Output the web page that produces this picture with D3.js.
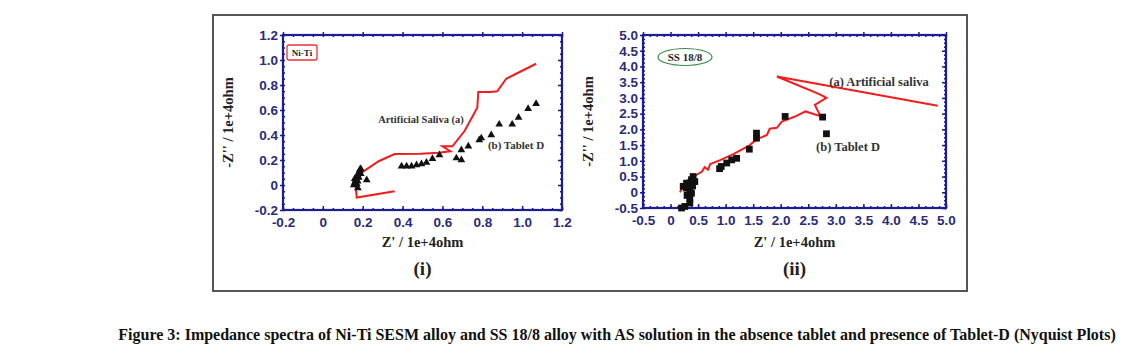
<!DOCTYPE html>
<html>
<head>
<meta charset="utf-8">
<script src="https://cdn.jsdelivr.net/npm/d3@7"></script>
<style>
  body { margin: 0; background: #fff; }
  svg { display: block; }
</style>
</head>
<body>
<svg id="fig" width="1127" height="360"></svg>
<script>
// ---- data ----
// panel (i): Ni-Ti
var niTiTicks = [-0.2, 0, 0.2, 0.4, 0.6, 0.8, 1.0, 1.2];
var niTiSaliva = [
  [0.36, -0.05], [0.17, -0.10], [0.165, -0.02], [0.155, 0.02], [0.165, 0.06],
  [0.2, 0.105], [0.28, 0.19], [0.36, 0.248], [0.49, 0.25], [0.58, 0.258],
  [0.64, 0.27], [0.60, 0.31], [0.65, 0.31], [0.71, 0.43], [0.755, 0.56],
  [0.775, 0.62], [0.78, 0.745], [0.84, 0.745], [0.875, 0.75], [0.92, 0.85],
  [0.97, 0.89], [1.07, 0.97]
];
var niTiTablet = [
  [0.155, 0.0], [0.16, 0.02], [0.165, 0.04], [0.17, 0.06], [0.175, 0.08],
  [0.18, 0.10], [0.185, 0.12], [0.19, 0.13], [0.16, 0.05], [0.17, 0.01],
  [0.175, 0.03], [0.18, 0.06], [0.19, 0.09], [0.176, -0.024], [0.22, 0.04],
  [0.395, 0.15], [0.42, 0.15], [0.445, 0.15], [0.47, 0.16], [0.495, 0.168],
  [0.52, 0.18], [0.55, 0.21], [0.585, 0.24], [0.67, 0.215], [0.695, 0.2],
  [0.695, 0.28], [0.73, 0.31], [0.785, 0.36], [0.795, 0.375], [0.845, 0.40],
  [0.885, 0.485], [0.95, 0.485], [0.982, 0.54], [1.03, 0.61], [1.07, 0.65]
];

// panel (ii): SS 18/8
var ssTicks = [-0.5, 0, 0.5, 1.0, 1.5, 2.0, 2.5, 3.0, 3.5, 4.0, 4.5, 5.0];
var ssSaliva = [
  [0.17, 0.0], [0.25, 0.25], [0.35, 0.45], [0.47, 0.55], [0.57, 0.66],
  [0.62, 0.80], [0.68, 0.72], [0.72, 0.90], [0.90, 1.02], [1.15, 1.22],
  [1.44, 1.50], [1.56, 1.68], [1.75, 1.82], [1.80, 2.02], [1.93, 2.05],
  [2.02, 2.25], [2.25, 2.40], [2.45, 2.57], [2.72, 2.42], [2.62, 2.78],
  [2.83, 3.0], [2.70, 3.12], [1.93, 3.68], [4.85, 2.75]
];
var ssTablet = [
  [0.2, -0.5], [0.26, -0.45], [0.35, -0.34], [0.35, -0.19], [0.38, -0.03],
  [0.35, 0.08], [0.29, 0.13], [0.23, 0.19], [0.29, 0.29], [0.38, 0.40],
  [0.41, 0.50], [0.44, 0.34], [0.30, -0.1], [0.32, 0.22], [0.40, 0.2],
  [0.89, 0.75], [0.92, 0.82], [1.02, 0.93], [1.11, 1.03], [1.20, 1.08],
  [1.43, 1.37], [1.56, 1.72], [1.56, 1.88], [2.08, 2.41], [2.76, 2.39],
  [2.83, 1.86]
];

var caption = "Figure 3: Impedance spectra of Ni-Ti SESM alloy and SS 18/8 alloy with AS solution in the absence tablet and presence of Tablet-D (Nyquist Plots)";

// ---- drawing ----
var svg = d3.select("#fig");
var navy = "#1c1c96";
var tickText = "#2b2b7a";

// outer grey frame
svg.append("rect")
  .attr("x", 213).attr("y", 15)
  .attr("width", 754).attr("height", 276)
  .attr("fill", "none").attr("stroke", "#555").attr("stroke-width", 2);

function panel(opt) {
  var g = svg.append("g");
  var x = d3.scaleLinear().domain(opt.domain).range([opt.left, opt.right]);
  var y = d3.scaleLinear().domain(opt.domain).range([opt.bottom, opt.top]);

  // minor ticks on every side
  var step = opt.ticks[1] - opt.ticks[0];
  var minor = d3.range(opt.domain[0], opt.domain[1] + 1e-9, step / 4);

  g.append("g").attr("transform", "translate(0," + opt.bottom + ")")
    .call(d3.axisBottom(x).tickValues(minor).tickSize(-2).tickFormat(""));
  g.append("g").attr("transform", "translate(0," + opt.top + ")")
    .call(d3.axisTop(x).tickValues(minor).tickSize(-2).tickFormat(""));
  g.append("g").attr("transform", "translate(" + opt.left + ",0)")
    .call(d3.axisLeft(y).tickValues(minor).tickSize(-2).tickFormat(""));
  g.append("g").attr("transform", "translate(" + opt.right + ",0)")
    .call(d3.axisRight(y).tickValues(minor).tickSize(-2).tickFormat(""));

  // major ticks + labels (plain hyphen for negatives, like the original)
  var fmt = function(d) { return d === 0 ? "0" : d.toFixed(1); };
  g.append("g").attr("class", "ax").attr("transform", "translate(0," + opt.bottom + ")")
    .call(d3.axisBottom(x).tickValues(opt.ticks).tickSize(-4).tickPadding(7).tickFormat(fmt));
  g.append("g").attr("class", "ax").attr("transform", "translate(" + opt.left + ",0)")
    .call(d3.axisLeft(y).tickValues(opt.ticks).tickSize(3).tickPadding(2).tickFormat(fmt));
  g.append("g").attr("transform", "translate(0," + opt.top + ")")
    .call(d3.axisTop(x).tickValues(opt.ticks).tickSize(3).tickFormat(""));
  g.append("g").attr("transform", "translate(" + opt.right + ",0)")
    .call(d3.axisRight(y).tickValues(opt.ticks).tickSize(-4).tickFormat(""));

  g.selectAll(".domain").remove();
  g.selectAll(".tick line").attr("stroke", navy).attr("stroke-width", 1.5);
  g.selectAll(".ax text")
    .attr("fill", tickText)
    .style("font-family", "Liberation Sans, Arial, sans-serif")
    .style("font-weight", "bold")
    .style("font-size", "13.5px");

  // plot frame
  g.append("rect")
    .attr("x", opt.left).attr("y", opt.top)
    .attr("width", opt.right - opt.left).attr("height", opt.bottom - opt.top)
    .attr("fill", "none").attr("stroke", navy).attr("stroke-width", 2.2);

  // saliva line
  g.append("path")
    .datum(opt.line)
    .attr("d", d3.line().x(function(d) { return x(d[0]); }).y(function(d) { return y(d[1]); }))
    .attr("fill", "none").attr("stroke", "#f21c1c").attr("stroke-width", 2)
    .attr("stroke-linejoin", "miter");

  // tablet D markers
  var sym = d3.symbol().type(opt.marker).size(opt.marker === d3.symbolSquare ? 46 : 26);
  g.selectAll(".pt").data(opt.points).enter().append("path")
    .attr("transform", function(d) { return "translate(" + x(d[0]) + "," + y(d[1]) + ")"; })
    .attr("d", sym).attr("fill", "#111");

  // axis titles
  var serif = "Liberation Serif, Times New Roman, serif";
  g.append("text")
    .attr("x", (opt.left + opt.right) / 2).attr("y", 247)
    .attr("text-anchor", "middle")
    .style("font-family", serif).style("font-weight", "bold").style("font-size", "14.5px")
    .attr("fill", "#222")
    .text("Z' / 1e+4ohm");
  g.append("text")
    .attr("transform", "translate(" + opt.yTitleX + "," + ((opt.top + opt.bottom) / 2) + ")rotate(-90)")
    .attr("text-anchor", "middle")
    .style("font-family", serif).style("font-weight", "bold").style("font-size", "14.5px")
    .attr("fill", "#222")
    .text("-Z'' / 1e+4ohm");
  g.append("text")
    .attr("x", (opt.left + opt.right) / 2).attr("y", 275)
    .attr("text-anchor", "middle")
    .style("font-family", serif).style("font-weight", "bold").style("font-size", "19px")
    .attr("fill", "#222")
    .text(opt.num);

  // annotations
  opt.notes.forEach(function(n) {
    g.append("text")
      .attr("x", n.x).attr("y", n.y)
      .attr("text-anchor", "middle")
      .style("font-family", serif).style("font-weight", "bold").style("font-size", n.size + "px")
      .attr("fill", "#333")
      .text(n.t);
  });
  return g;
}

var p1 = panel({
  domain: [-0.2, 1.2], ticks: niTiTicks,
  left: 283, right: 562, top: 35, bottom: 210,
  line: niTiSaliva, points: niTiTablet, marker: d3.symbolTriangle,
  yTitleX: 233, num: "(i)",
  notes: [
    { x: 421, y: 123, t: "Artificial Saliva (a)", size: 10.5 },
    { x: 516, y: 149, t: "(b) Tablet D", size: 11 }
  ]
});
p1.append("rect")
  .attr("x", 287).attr("y", 45).attr("width", 30).attr("height", 15).attr("rx", 2)
  .attr("fill", "#fff").attr("stroke", "#e33").attr("stroke-width", 1.3);
p1.append("text")
  .attr("x", 302).attr("y", 56).attr("text-anchor", "middle")
  .style("font-family", "Liberation Serif, serif").style("font-weight", "bold").style("font-size", "9px")
  .attr("fill", "#222").text("Ni-Ti");

var p2 = panel({
  domain: [-0.5, 5.0], ticks: ssTicks,
  left: 643, right: 946, top: 35, bottom: 208,
  line: ssSaliva, points: ssTablet, marker: d3.symbolSquare,
  yTitleX: 593, num: "(ii)",
  notes: [
    { x: 879, y: 86, t: "(a) Artificial saliva", size: 12.5 },
    { x: 848, y: 151, t: "(b) Tablet D", size: 12.5 }
  ]
});
p2.append("ellipse")
  .attr("cx", 685).attr("cy", 57).attr("rx", 27).attr("ry", 8.5)
  .attr("fill", "#fff").attr("stroke", "#3c8a4c").attr("stroke-width", 1.2);
p2.append("text")
  .attr("x", 685).attr("y", 61).attr("text-anchor", "middle")
  .style("font-family", "Liberation Serif, serif").style("font-weight", "bold").style("font-size", "11px")
  .attr("fill", "#222").text("SS 18/8");

// caption
svg.append("text")
  .attr("x", 617).attr("y", 340)
  .attr("text-anchor", "middle")
  .style("font-family", "Liberation Serif, Times New Roman, serif")
  .style("font-weight", "bold").style("font-size", "16px")
  .attr("fill", "#111")
  .text(caption);
</script>
</body>
</html>
